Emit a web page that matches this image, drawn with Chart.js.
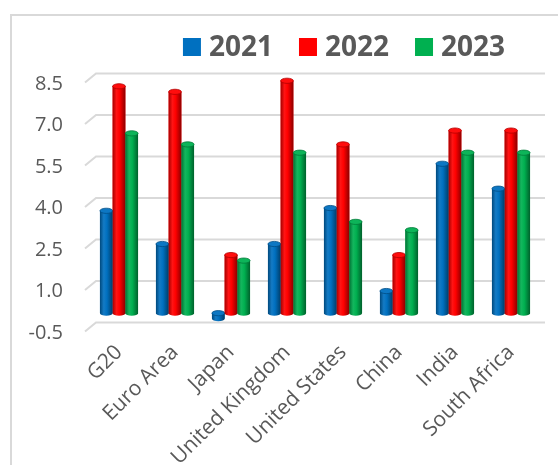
<!DOCTYPE html>
<html>
<head>
<meta charset="utf-8">
<script src="https://cdn.jsdelivr.net/npm/chart.js@4.4.1/dist/chart.umd.min.js"></script>
<style>
  html, body { margin: 0; padding: 0; background: #fff; overflow: hidden; }
  #frame { position: absolute; left: 10px; top: 14px; width: 600px; height: 500px; border: 2px solid #d9d9d9; }
  #chart { position: absolute; left: 0; top: 0; }
</style>
</head>
<body>
<div id="frame"></div>
<canvas id="chart" width="558" height="465"></canvas>
<script>
const categories = ['G20', 'Euro Area', 'Japan', 'United Kingdom', 'United States', 'China', 'India', 'South Africa'];
const years = ['2021', '2022', '2023'];
const values2021 = [3.7, 2.5, -0.2, 2.5, 3.8, 0.8, 5.4, 4.5];
const values2022 = [8.2, 8.0, 2.1, 8.4, 6.1, 2.1, 6.6, 6.6];
const values2023 = [6.5, 6.1, 1.9, 5.8, 3.3, 3.0, 5.8, 5.8];
const yTicks = [-0.5, 1.0, 2.5, 4.0, 5.5, 7.0, 8.5];
const colors = ['#0070c0', '#ff0000', '#00b050'];

const textGray = '#595959';
const gridGray = '#d9d9d9';

// mix a hex colour toward black (amt < 0) or white (amt > 0)
function mix(hex, amt) {
  const n = parseInt(hex.slice(1), 16);
  let r = n >> 16, g = (n >> 8) & 255, b = n & 255;
  const t = amt < 0 ? 0 : 255, p = Math.abs(amt);
  r = Math.round(r + (t - r) * p);
  g = Math.round(g + (t - g) * p);
  b = Math.round(b + (t - b) * p);
  return `rgb(${r},${g},${b})`;
}

// back-wall gridlines with a short slanted stub toward the front edge
const depthGrid = {
  id: 'depthGrid',
  beforeDatasetsDraw(chart) {
    const { ctx, chartArea, scales } = chart;
    const y = scales.y;
    ctx.save();
    ctx.strokeStyle = gridGray;
    ctx.lineWidth = 2;
    y.ticks.forEach(t => {
      const py = y.getPixelForValue(t.value);
      ctx.beginPath();
      ctx.moveTo(chartArea.left - 6, py + 4.5);
      ctx.lineTo(chartArea.left + 5, py - 4.5);
      ctx.lineTo(chartArea.right + 6, py - 4.5);
      ctx.stroke();
    });
    ctx.restore();
  }
};

// repaint each bar as a shaded cylinder with an elliptical cap
const cylinders = {
  id: 'cylinders',
  afterDatasetsDraw(chart) {
    const ctx = chart.ctx;
    chart.data.datasets.forEach((ds, i) => {
      const meta = chart.getDatasetMeta(i);
      const base = colors[i];
      meta.data.forEach(el => {
        const { x, y, base: b, width } = el.getProps(['x', 'y', 'base', 'width'], true);
        const left = x - width / 2, right = x + width / 2;
        const top = Math.min(y, b), bottom = Math.max(y, b);
        const rx = width / 2, ry = 2.6;
        const g = ctx.createLinearGradient(left, 0, right, 0);
        g.addColorStop(0, mix(base, -0.35));
        g.addColorStop(0.3, mix(base, 0.08));
        g.addColorStop(0.55, base);
        g.addColorStop(1, mix(base, -0.45));
        ctx.save();
        ctx.beginPath();
        ctx.moveTo(left, top);
        ctx.lineTo(left, bottom);
        ctx.ellipse(x, bottom, rx, ry, 0, Math.PI, 0, true);
        ctx.lineTo(right, top);
        ctx.closePath();
        ctx.fillStyle = g;
        ctx.fill();
        ctx.beginPath();
        ctx.ellipse(x, top, rx, ry, 0, 0, Math.PI * 2);
        ctx.fillStyle = mix(base, 0.05);
        ctx.fill();
        ctx.lineWidth = 0.8;
        ctx.strokeStyle = mix(base, -0.3);
        ctx.stroke();
        ctx.restore();
      });
    });
  }
};

// legend row: square swatch followed by bold year label
const yearLegend = {
  id: 'yearLegend',
  afterDraw(chart) {
    const ctx = chart.ctx;
    const box = 18, gap = 8, spacing = 26, cy = 47, centerX = 344;
    ctx.save();
    ctx.font = 'bold 28px "Open Sans"';
    ctx.textBaseline = 'middle';
    const items = chart.data.datasets.map(d => ({ label: d.label, color: d.backgroundColor, w: ctx.measureText(d.label).width }));
    const total = items.reduce((s, it) => s + box + gap + it.w, 0) + spacing * (items.length - 1);
    let x = centerX - total / 2;
    items.forEach(it => {
      ctx.fillStyle = it.color;
      ctx.fillRect(x, cy - box / 2, box, box);
      x += box + gap;
      ctx.fillStyle = textGray;
      ctx.fillText(it.label, x, cy + 1);
      x += it.w + spacing;
    });
    ctx.restore();
  }
};

const series = [values2021, values2022, values2023];

new Chart(document.getElementById('chart'), {
  type: 'bar',
  data: {
    labels: categories,
    datasets: years.map((yr, i) => ({
      label: yr,
      data: series[i],
      backgroundColor: colors[i],
      categoryPercentage: 0.68,
      barPercentage: 1.0
    }))
  },
  options: {
    responsive: false,
    animation: false,
    layout: { padding: { top: 78, right: 19, left: 0, bottom: 0 } },
    plugins: {
      legend: { display: false },
      tooltip: { enabled: false }
    },
    scales: {
      x: {
        grid: { display: false },
        border: { display: false },
        afterFit: s => { s.height = 138; },
        ticks: {
          color: textGray,
          font: { family: 'Open Sans', size: 21 },
          minRotation: 45,
          maxRotation: 45,
          autoSkip: false,
          padding: 5
        }
      },
      y: {
        min: -0.5,
        max: 8.5,
        grid: { display: false, drawTicks: false },
        border: { display: false },
        afterFit: s => { s.width = 91; },
        afterBuildTicks: s => { s.ticks = yTicks.map(v => ({ value: v })); },
        ticks: {
          color: textGray,
          font: { family: 'Open Sans', size: 20 },
          padding: 28,
          labelOffset: 6,
          callback: v => Number(v).toFixed(1)
        }
      }
    }
  },
  plugins: [depthGrid, cylinders, yearLegend]
});
</script>
</body>
</html>
